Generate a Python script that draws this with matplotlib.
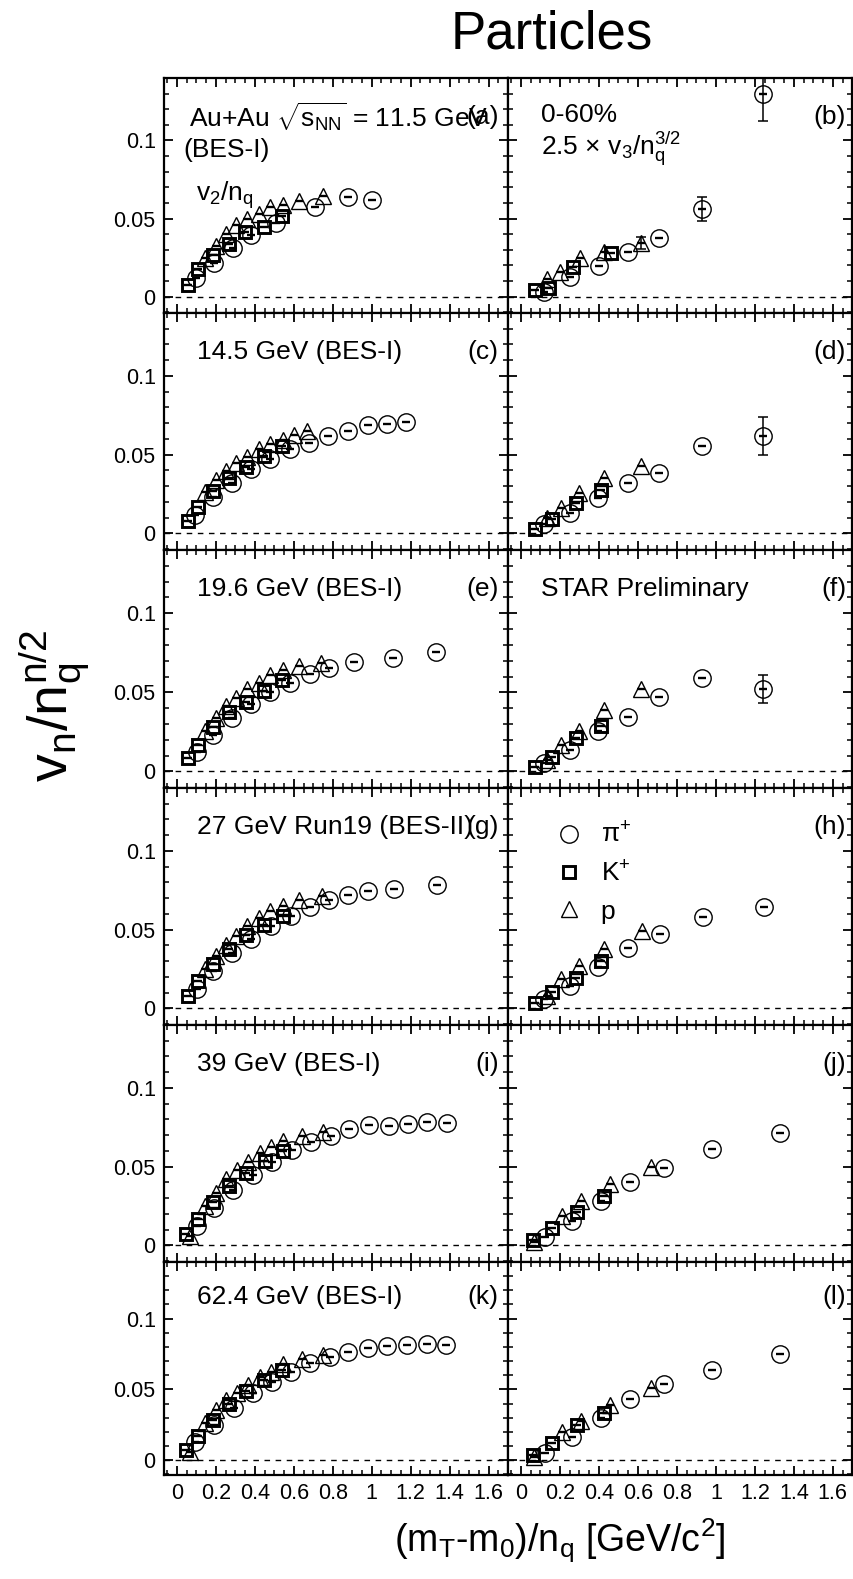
import matplotlib
matplotlib.use("Agg")
import matplotlib.pyplot as plt
from matplotlib.lines import Line2D
from matplotlib.ticker import FuncFormatter, MultipleLocator

# ---- data: (x, y) per species per panel ----
# left column: v2/nq, right column: 2.5 x v3/nq^(3/2)
a_pi = ([0.10, 0.19, 0.29, 0.38, 0.51, 0.71, 0.88, 1.00],
        [0.0118, 0.0218, 0.031, 0.0395, 0.0474, 0.0577, 0.0637, 0.062])
a_k = ([0.056, 0.107, 0.187, 0.267, 0.352, 0.448, 0.541],
       [0.0075, 0.0175, 0.0267, 0.0338, 0.0412, 0.0444, 0.0519])
a_p = ([0.145, 0.199, 0.252, 0.303, 0.361, 0.420, 0.480, 0.545, 0.625, 0.749],
       [0.0246, 0.0327, 0.0402, 0.0459, 0.0498, 0.053, 0.0577, 0.0588, 0.0615, 0.0645])

b_pi = ([0.12, 0.252, 0.399, 0.547, 0.708, 0.929, 1.240],
        [0.003, 0.0128, 0.0197, 0.0288, 0.0378, 0.056, 0.1297])
b_pi_err = [0, 0, 0, 0, 0, 0.0077, 0.0173]
b_k = ([0.073, 0.144, 0.269, 0.46],
       [0.0043, 0.0053, 0.0192, 0.0282])
b_p = ([0.133, 0.201, 0.303, 0.425, 0.615],
       [0.0111, 0.016, 0.0246, 0.0288, 0.0342])
b_p_err = [0, 0, 0, 0, 0.004]

c_pi = ([0.093, 0.187, 0.281, 0.383, 0.480, 0.582, 0.677, 0.778, 0.880, 0.979, 1.078, 1.178],
        [0.0117, 0.0229, 0.0322, 0.0409, 0.0472, 0.0534, 0.0572, 0.0621, 0.065, 0.0689, 0.0695, 0.071])
c_k = ([0.056, 0.107, 0.184, 0.267, 0.357, 0.448, 0.541],
       [0.008, 0.0165, 0.0271, 0.035, 0.0424, 0.0492, 0.0555])
c_p = ([0.145, 0.199, 0.252, 0.303, 0.361, 0.420, 0.480, 0.545, 0.600, 0.669],
       [0.0265, 0.0339, 0.0398, 0.0445, 0.0487, 0.0534, 0.0568, 0.0593, 0.0625, 0.0653])

d_pi = ([0.119, 0.252, 0.396, 0.547, 0.708, 0.929, 1.240],
        [0.0059, 0.0133, 0.0223, 0.0318, 0.0385, 0.0558, 0.0617])
d_pi_err = [0, 0, 0, 0, 0, 0, 0.012]
d_k = ([0.073, 0.158, 0.281, 0.413],
       [0.0027, 0.009, 0.0196, 0.0276])
d_p = ([0.133, 0.204, 0.297, 0.425, 0.615],
       [0.0101, 0.0164, 0.0259, 0.0354, 0.0427])

e_pi = ([0.102, 0.187, 0.284, 0.383, 0.480, 0.582, 0.681, 0.780, 0.911, 1.110, 1.331],
        [0.012, 0.0228, 0.0338, 0.0427, 0.0503, 0.056, 0.0613, 0.0655, 0.0691, 0.0715, 0.0755])
e_k = ([0.056, 0.107, 0.184, 0.267, 0.357, 0.448, 0.541],
       [0.0085, 0.0169, 0.0279, 0.0374, 0.0438, 0.0507, 0.0577])
e_p = ([0.145, 0.199, 0.252, 0.303, 0.361, 0.420, 0.480, 0.545, 0.625, 0.741],
       [0.0254, 0.0338, 0.0412, 0.0465, 0.0518, 0.0556, 0.0607, 0.0641, 0.0666, 0.0687])

f_pi = ([0.119, 0.252, 0.396, 0.547, 0.708, 0.929, 1.240],
        [0.0053, 0.0137, 0.0258, 0.0345, 0.0471, 0.0592, 0.0522])
f_pi_err = [0, 0, 0, 0, 0, 0, 0.0088]
f_k = ([0.073, 0.158, 0.281, 0.413],
       [0.0027, 0.0089, 0.0211, 0.0285])
f_p = ([0.133, 0.204, 0.297, 0.425, 0.615],
       [0.0074, 0.0169, 0.0254, 0.0391, 0.0522])

g_pi = ([0.102, 0.187, 0.284, 0.383, 0.485, 0.587, 0.681, 0.783, 0.880, 0.979, 1.115, 1.336],
        [0.0126, 0.0238, 0.0354, 0.0442, 0.0522, 0.0589, 0.0642, 0.0686, 0.0722, 0.0743, 0.076, 0.0785])
g_k = ([0.056, 0.107, 0.184, 0.267, 0.357, 0.448, 0.545],
       [0.0076, 0.0175, 0.028, 0.0375, 0.0465, 0.0533, 0.0585])
g_p = ([0.145, 0.199, 0.252, 0.303, 0.361, 0.420, 0.480, 0.545, 0.625, 0.744],
       [0.0248, 0.0333, 0.0406, 0.0463, 0.0526, 0.0575, 0.0617, 0.0653, 0.0686, 0.0716])

h_pi = ([0.119, 0.252, 0.396, 0.547, 0.713, 0.934, 1.248],
        [0.0059, 0.0143, 0.0263, 0.0381, 0.0474, 0.0579, 0.0642])
h_k = ([0.073, 0.158, 0.284, 0.413],
       [0.0034, 0.0105, 0.0196, 0.0301])
h_p = ([0.133, 0.204, 0.297, 0.425, 0.620],
       [0.008, 0.0189, 0.0269, 0.0379, 0.049])

i_pi = ([0.102, 0.192, 0.290, 0.389, 0.490, 0.589, 0.688, 0.789, 0.884, 0.985, 1.087, 1.186, 1.285, 1.388],
        [0.0123, 0.0235, 0.0351, 0.045, 0.0529, 0.0609, 0.0655, 0.0698, 0.074, 0.0767, 0.0761, 0.0772, 0.0784, 0.0778])
i_k = ([0.048, 0.107, 0.184, 0.267, 0.357, 0.451, 0.545],
       [0.007, 0.0169, 0.0275, 0.0376, 0.0461, 0.0535, 0.0603])
i_p = ([0.068, 0.145, 0.199, 0.252, 0.310, 0.366, 0.425, 0.482, 0.545, 0.641, 0.752],
       [0.006, 0.025, 0.0334, 0.0419, 0.0482, 0.0529, 0.0584, 0.0626, 0.0666, 0.0698, 0.0719])

j_pi = ([0.124, 0.263, 0.408, 0.557, 0.734, 0.982, 1.329],
        [0.0053, 0.0154, 0.0284, 0.0404, 0.049, 0.061, 0.0716])
j_k = ([0.060, 0.161, 0.289, 0.425],
       [0.0032, 0.011, 0.0215, 0.0316])
j_p = ([0.068, 0.209, 0.306, 0.455, 0.668],
       [0.002, 0.0189, 0.0284, 0.0389, 0.0499])

k_pi = ([0.093, 0.192, 0.292, 0.390, 0.489, 0.586, 0.684, 0.785, 0.880, 0.981, 1.079, 1.181, 1.283, 1.382],
        [0.0129, 0.0247, 0.0365, 0.0471, 0.0553, 0.0624, 0.0687, 0.0729, 0.0765, 0.0793, 0.0807, 0.0812, 0.0819, 0.0812])
k_k = ([0.048, 0.107, 0.184, 0.267, 0.357, 0.448, 0.541],
       [0.0071, 0.0172, 0.0282, 0.0395, 0.0489, 0.0565, 0.0635])
k_p = ([0.068, 0.145, 0.199, 0.252, 0.310, 0.366, 0.425, 0.485, 0.545, 0.641, 0.752],
       [0.0059, 0.0259, 0.0353, 0.0424, 0.0475, 0.0529, 0.0588, 0.0624, 0.0682, 0.0718, 0.0741])

l_pi = ([0.124, 0.263, 0.408, 0.557, 0.734, 0.982, 1.329],
        [0.0052, 0.0165, 0.0301, 0.0435, 0.0541, 0.064, 0.0753])
l_k = ([0.060, 0.161, 0.289, 0.425],
       [0.0035, 0.0118, 0.0247, 0.0334])
l_p = ([0.068, 0.209, 0.306, 0.455, 0.668],
       [0.002, 0.02, 0.0275, 0.0388, 0.0513])

row_labels = ["14.5 GeV (BES-I)", "19.6 GeV (BES-I)", "27 GeV Run19 (BES-II)",
              "39 GeV (BES-I)", "62.4 GeV (BES-I)"]
panel_tags = ["a", "b", "c", "d", "e", "f", "g", "h", "i", "j", "k", "l"]
x_ticks = [0, 0.2, 0.4, 0.6, 0.8, 1.0, 1.2, 1.4, 1.6]
y_ticks = [0, 0.05, 0.1]

PI_STYLE = dict(marker="o", ms=12.5, mfc="none", mec="black", mew=1.0, ls="none")
K_STYLE = dict(marker="s", ms=9.2, mfc="none", mec="black", mew=2.1, ls="none")
P_STYLE = dict(marker="^", ms=12, mfc="none", mec="black", mew=1.0, ls="none")

plt.rcParams["font.family"] = ["Liberation Sans", "DejaVu Sans"]
plt.rcParams["mathtext.fontset"] = "custom"
plt.rcParams["mathtext.rm"] = "Liberation Sans"
plt.rcParams["mathtext.it"] = "Liberation Sans:italic"
plt.rcParams["mathtext.default"] = "regular"

TEXT_SIZE = 19


def draw_series(ax, data, style, err=None) -> None:
    x, y = data
    ax.plot(x, y, **style)
    ax.plot(x, y, ls="none", marker="_", ms=5.5, mew=1.7, color="black")
    if err is not None:
        xs = [xv for xv, ev in zip(x, err) if ev > 0]
        ys = [yv for yv, ev in zip(y, err) if ev > 0]
        es = [ev for ev in err if ev > 0]
        ax.errorbar(xs, ys, yerr=es, fmt="none", ecolor="black", elinewidth=1.1, capsize=3.5, capthick=1.1)


def style_axes(ax, show_x: bool, show_y: bool) -> None:
    ax.set_xlim(-0.066, 1.70)
    ax.set_ylim(-0.0105, 0.14)
    ax.set_xticks(x_ticks)
    ax.set_yticks(y_ticks)
    ax.xaxis.set_minor_locator(MultipleLocator(0.05))
    ax.yaxis.set_minor_locator(MultipleLocator(0.01))
    fmt = FuncFormatter(lambda v, _: f"{v:g}")
    ax.xaxis.set_major_formatter(fmt)
    ax.yaxis.set_major_formatter(fmt)
    ax.tick_params(which="both", direction="in", top=True, right=True, labelsize=15.5, pad=6)
    ax.tick_params(which="major", length=6.5, width=1.3)
    ax.tick_params(which="minor", length=3.4, width=1.1)
    ax.tick_params(axis="x", labelbottom=show_x)
    ax.tick_params(axis="y", labelleft=show_y)
    for spine in ax.spines.values():
        spine.set_linewidth(1.6)
    ax.axhline(0, color="black", lw=1.0, ls=(0, (4, 4)))


def main() -> None:
    fig = plt.figure(figsize=(8.54, 15.79), dpi=100)
    gs = fig.add_gridspec(
        6, 2,
        left=164 / 854, right=0.998, top=1 - 78 / 1579, bottom=1 - 1475 / 1579,
        hspace=0, wspace=0, height_ratios=[235, 237, 238, 237, 237, 213],
    )

    panels = [
        (a_pi, a_k, a_p, None, None), (b_pi, b_k, b_p, b_pi_err, b_p_err),
        (c_pi, c_k, c_p, None, None), (d_pi, d_k, d_p, d_pi_err, None),
        (e_pi, e_k, e_p, None, None), (f_pi, f_k, f_p, f_pi_err, None),
        (g_pi, g_k, g_p, None, None), (h_pi, h_k, h_p, None, None),
        (i_pi, i_k, i_p, None, None), (j_pi, j_k, j_p, None, None),
        (k_pi, k_k, k_p, None, None), (l_pi, l_k, l_p, None, None),
    ]

    axes = []
    for idx, (pi, kaon, proton, pi_err, p_err) in enumerate(panels):
        row, col = divmod(idx, 2)
        ax = fig.add_subplot(gs[row, col])
        style_axes(ax, show_x=(row == 5), show_y=(col == 0))
        draw_series(ax, pi, PI_STYLE, pi_err)
        draw_series(ax, kaon, K_STYLE)
        draw_series(ax, proton, P_STYLE, p_err)
        tag_x = 0.972 if col == 0 else 0.982
        ax.text(tag_x, 0.835, f"({panel_tags[idx]})", transform=ax.transAxes,
                ha="right", va="center", fontsize=TEXT_SIZE)
        if col == 0 and row > 0:
            ax.text(0.095, 0.835, row_labels[row - 1], transform=ax.transAxes,
                    ha="left", va="center", fontsize=TEXT_SIZE)
        axes.append(ax)

    ax_a, ax_b = axes[0], axes[1]
    ax_a.text(0.072, 0.834, r"Au+Au $\sqrt{s_{NN}}$ = 11.5 GeV", transform=ax_a.transAxes,
              ha="left", va="center", fontsize=TEXT_SIZE)
    ax_a.text(0.055, 0.694, "(BES-I)", transform=ax_a.transAxes,
              ha="left", va="center", fontsize=TEXT_SIZE)
    ax_a.text(0.092, 0.50, r"v$_{2}$/n$_{q}$", transform=ax_a.transAxes,
              ha="left", va="center", fontsize=TEXT_SIZE)
    ax_b.text(0.096, 0.843, "0-60%", transform=ax_b.transAxes,
              ha="left", va="center", fontsize=TEXT_SIZE)
    ax_b.text(0.096, 0.70, r"2.5 $\times$ v$_{3}$/n$_{q}^{3/2}$", transform=ax_b.transAxes,
              ha="left", va="center", fontsize=TEXT_SIZE)
    axes[5].text(0.096, 0.835, "STAR Preliminary", transform=axes[5].transAxes,
                 ha="left", va="center", fontsize=TEXT_SIZE)

    handles = [
        Line2D([], [], **PI_STYLE),
        Line2D([], [], **K_STYLE),
        Line2D([], [], **P_STYLE),
    ]
    axes[7].legend(handles, [r"$\pi^{+}$", r"K$^{+}$", "p"], loc="upper left",
                   bbox_to_anchor=(0.10, 0.91), frameon=False, fontsize=TEXT_SIZE,
                   handlelength=1.0, handletextpad=0.7, labelspacing=0.5, borderpad=0)

    fig.text(0.646, 0.978, "Particles", ha="center", va="center", fontsize=38)
    fig.text(0.064, 0.553, r"v$_{n}$/n$_{q}^{n/2}$", rotation=90, ha="center", va="center", fontsize=40)
    fig.text(0.655, 0.024, r"(m$_{T}$-m$_{0}$)/n$_{q}$ [GeV/c$^{2}$]", ha="center", va="center", fontsize=27)

    fig.savefig("out.png", dpi=100)
    plt.close(fig)


if __name__ == "__main__":
    main()
